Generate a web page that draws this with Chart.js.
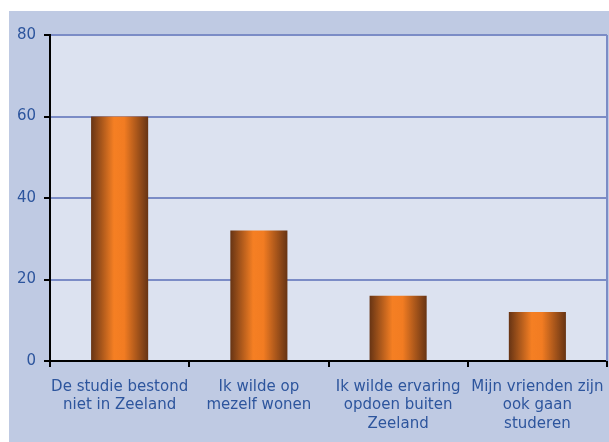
<!DOCTYPE html>
<html>
<head>
<meta charset="utf-8">
<script src="https://cdn.jsdelivr.net/npm/chart.js@4.4.1/dist/chart.umd.min.js"></script>
<style>
    html, body { margin: 0; padding: 0; background: #fff; }
    #wrap { position: absolute; left: 9px; top: 11px; width: 600px; height: 431px; background: #BFCAE3; }
</style>
</head>
<body>
<div id="wrap"><canvas id="bar-chart"></canvas></div>
<script>
const categories = [
    ['De studie bestond', 'niet in Zeeland'],
    ['Ik wilde op', 'mezelf wonen'],
    ['Ik wilde ervaring', 'opdoen buiten', 'Zeeland'],
    ['Mijn vrienden zijn', 'ook gaan', 'studeren']
];
const values = [60, 32, 16, 12];
const yTicks = [0, 20, 40, 60, 80];

const textColor = '#2D559D';
const gridColor = '#7B8CC6';
const barShare = 0.41;
const fontName = "'DejaVu Sans', Verdana, sans-serif";

Chart.defaults.font.family = fontName;
Chart.defaults.color = textColor;

// brown - orange - brown across each bar
function barGradient(context) {
    const chart = context.chart;
    const x = chart.scales.x;
    if (!chart.chartArea || !x) return '#F47D22';
    const cx = x.getPixelForValue(context.dataIndex);
    const w = (x.width / categories.length) * barShare;
    const g = chart.ctx.createLinearGradient(cx - w / 2, 0, cx + w / 2, 0);
    g.addColorStop(0, '#673414');
    g.addColorStop(0.4, '#F57F23');
    g.addColorStop(0.58, '#F27C22');
    g.addColorStop(1, '#673414');
    return g;
}

const plotBg = {
    id: 'plotBg',
    beforeDraw(chart) {
        const { ctx, chartArea: a } = chart;
        ctx.save();
        ctx.fillStyle = '#DCE2F0';
        ctx.fillRect(a.left, a.top, a.right - a.left, a.bottom - a.top);
        ctx.restore();
    },
    afterDatasetsDraw(chart) {
        const { ctx, chartArea: a } = chart;
        ctx.save();
        ctx.strokeStyle = gridColor;
        ctx.lineWidth = 2;
        ctx.beginPath();
        ctx.moveTo(a.right, a.top);
        ctx.lineTo(a.right, a.bottom);
        ctx.stroke();
        ctx.restore();
    }
};

document.addEventListener('DOMContentLoaded', () => {
    const barCtx = document.getElementById('bar-chart').getContext('2d');
    new Chart(barCtx, {
        type: 'bar',
        data: {
            labels: categories,
            datasets: [{
                data: values,
                backgroundColor: barGradient,
                borderWidth: 0,
                barPercentage: 1,
                categoryPercentage: barShare
            }]
        },
        options: {
            responsive: true,
            maintainAspectRatio: false,
            animation: false,
            layout: { padding: { top: 24, right: 2, left: 0, bottom: 0 } },
            plugins: {
                legend: { display: false },
                tooltip: { enabled: false }
            },
            scales: {
                x: {
                    afterFit(scale) {
                        scale.height = 81;
                        scale.paddingLeft = 0;
                        scale.paddingRight = 0;
                    },
                    border: { color: '#000', width: 2 },
                    grid: {
                        drawOnChartArea: false,
                        tickColor: '#000',
                        tickLength: 6,
                        lineWidth: 2
                    },
                    ticks: {
                        padding: 11,
                        maxRotation: 0,
                        autoSkip: false,
                        font: { family: fontName, size: 15, lineHeight: 1.22 }
                    }
                },
                y: {
                    min: 0,
                    max: 80,
                    afterFit(scale) {
                        scale.width = 41;
                        scale.paddingTop = 0;
                        scale.paddingBottom = 0;
                    },
                    afterBuildTicks(scale) { scale.ticks = yTicks.map(v => ({ value: v })); },
                    border: { color: '#000', width: 2 },
                    grid: {
                        color: c => (c.tick && c.tick.value === 0 ? '#000' : gridColor),
                        lineWidth: 2,
                        tickColor: '#000',
                        tickLength: 6
                    },
                    ticks: {
                        padding: 8,
                        font: { family: fontName, size: 15 }
                    }
                }
            }
        },
        plugins: [plotBg]
    });
});
</script>
</body>
</html>
